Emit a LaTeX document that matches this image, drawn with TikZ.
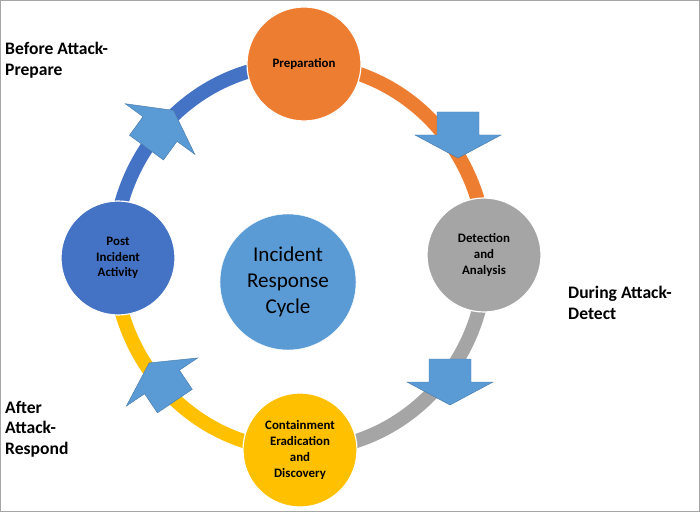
\documentclass[tikz,border=0pt]{standalone}
\usepackage{fontspec}
\setmainfont{Carlito}
\usetikzlibrary{positioning}
\definecolor{prepOrange}{HTML}{ED7D31}
\definecolor{detGray}{HTML}{A5A5A5}
\definecolor{contYellow}{HTML}{FFC000}
\definecolor{postBlue}{HTML}{4472C4}
\definecolor{cycBlue}{HTML}{5B9BD5}
\tikzset{
  phase/.style={circle, draw=white, line width=1pt, minimum size=3.42cm, inner sep=0pt,
    text=black, font=\fontsize{11}{13.5}\selectfont\bfseries, align=center},
  band/.style={line width=12pt},
  side label/.style={font=\fontsize{15}{17.5}\selectfont\bfseries, align=left, anchor=north west, inner sep=0pt},
  block/.style={fill=cycBlue, draw=cycBlue!80!black, line width=0.4pt}
}
\newcommand{\blockarrow}[3]{%
  \fill[block, shift={(#1,#2)}, rotate=-#3]
    (-23,-21) -- (0,-21) -- (0,-43) -- (23,0) -- (0,43) -- (0,21) -- (-23,21) -- cycle;}
\begin{document}
\begin{tikzpicture}[x=0.03cm, y=-0.03cm]
  \useasboundingbox (0,0) rectangle (700,512);
  \draw[gray!70, line width=0.8pt] (0.5,0.5) rectangle (699.5,511.5);

  % ring
  \coordinate (ring) at (300,257);
  \draw[band, prepOrange] (ring) ++(270:186 and 193) arc (270:360:186 and 193);
  \draw[band, detGray] (ring) ++(0:186 and 193) arc (0:90:186 and 193);
  \draw[band, contYellow] (ring) ++(90:186 and 193) arc (90:180:186 and 193);
  \draw[band, postBlue] (ring) ++(180:186 and 193) arc (180:270:186 and 193);

  % phases
  \node[phase, fill=prepOrange] at (304,64) (prep) {Preparation};
  \node[phase, fill=detGray] at (484,255) (detect) {Detection\\and\\Analysis};
  \node[phase, fill=contYellow] at (300,450) (contain) {Containment\\Eradication\\and\\Discovery};
  \node[phase, fill=postBlue] at (118,258) (post) {Post\\Incident\\Activity};
  \node[circle, fill=cycBlue, draw=white, minimum size=4.08cm, align=center,
    font=\fontsize{18}{22}\selectfont] at (288,282) (cycle) {Incident\\Response\\Cycle};

  % arrows
  \blockarrow{458}{135}{90}
  \blockarrow{450}{382}{90}
  \blockarrow{162}{382}{236}
  \blockarrow{160}{129}{-54}

  % stage labels
  \node[side label] at (5,42) (before) {Before Attack-\\Prepare};
  \node[side label] at (568,286) (during) {During Attack-\\Detect};
  \node[side label] at (5,401) (after) {After\\Attack-\\Respond};
\end{tikzpicture}
\end{document}
